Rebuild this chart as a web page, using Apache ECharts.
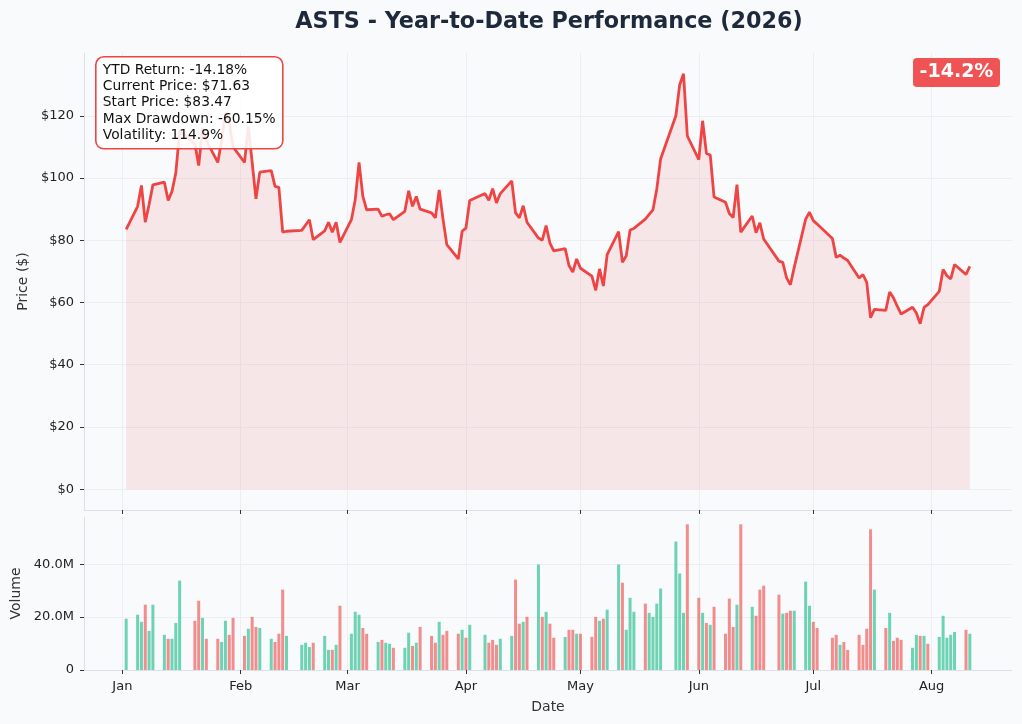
<!DOCTYPE html>
<html>
<head>
<meta charset="utf-8">
<script src="https://cdn.jsdelivr.net/npm/echarts@6/dist/echarts.min.js"></script>
<style>
  html, body { margin: 0; padding: 0; background: #f8fafc; }
  #container { width: 1022px; height: 724px; }
</style>
</head>
<body>
<div id="container"></div>
<script>
  // trading calendar: weekdays from Jan 2 to Aug 11, minus market holidays
  var startDay = '2026-01-02';
  var endDay = '2026-08-11';
  var holidays = ['2026-01-19', '2026-02-16', '2026-04-03', '2026-05-25', '2026-06-19', '2026-07-03'];

  // closing prices, one row per trading week
  var closes = [
    83.47,
    90.9, 97.6, 85.8, 91.5, 97.8,
    98.7, 92.8, 95.7, 101.6, 115.0,
    111.0, 104.0, 116.0, 112.0,
    105.0, 112.0, 121.0, 118.0, 110.0,
    105.0, 116.5, 105.0, 93.3, 101.9,
    102.4, 97.3, 97.0, 82.6, 82.9,
    83.2, 84.9, 86.6, 80.2,
    83.0, 85.8, 82.6, 85.8, 79.3,
    86.6, 93.0, 105.0, 94.1, 89.8,
    90.0, 87.7, 88.2, 88.5, 86.6,
    89.3, 95.9, 90.9, 94.1, 90.0,
    88.8, 87.2, 96.2, 86.8, 78.6,
    74.0, 82.9, 83.9, 92.8,
    95.0, 92.8, 96.6, 92.0, 95.0,
    99.1, 88.8, 87.2, 91.1, 85.8,
    80.7, 80.0, 84.7, 79.1, 76.6,
    77.3, 71.9, 69.8, 74.0, 71.0,
    68.5, 63.9, 70.8, 65.3, 75.4,
    82.8, 72.9, 75.0, 83.3, 83.8,
    86.8, 88.3, 89.8, 96.5, 106.1,
    120.0, 130.0, 133.5, 113.5,
    105.9, 118.4, 107.9, 107.4, 93.9,
    92.2, 88.6, 87.3, 97.9, 82.6,
    87.8, 82.4, 85.6, 80.4,
    73.3, 72.9, 67.9, 65.7, 71.3,
    86.8, 89.0, 86.3, 85.2,
    80.6, 74.5, 75.2, 74.3, 73.5,
    67.9, 69.0, 66.5, 55.1, 57.8,
    57.5, 63.4, 61.5, 58.8, 56.3,
    58.5, 56.6, 53.2, 58.4, 59.3,
    63.6, 70.6, 68.6, 67.6, 72.2,
    69.0, 71.63
  ];

  // daily volume in millions
  var volumes = [
    19.4,
    20.9, 18.2, 24.7, 14.8, 24.7,
    13.3, 11.8, 11.8, 17.8, 33.8,
    18.6, 26.2, 19.7, 11.8,
    11.8, 10.6, 18.6, 13.3, 19.7,
    12.9, 15.6, 20.1, 16.3, 15.9,
    11.8, 10.6, 13.7, 30.4, 12.9,
    9.5, 10.3, 8.7, 10.3,
    12.9, 7.6, 7.6, 9.5, 24.3,
    13.7, 22.0, 20.9, 15.9, 13.7,
    10.6, 11.4, 10.3, 9.9, 8.4,
    8.4, 14.1, 9.1, 10.3, 16.3,
    12.9, 10.3, 18.2, 13.3, 14.8,
    13.7, 15.2, 12.2, 17.1,
    13.3, 10.3, 11.4, 9.5, 11.8,
    12.9, 34.2, 17.5, 18.2, 20.1,
    39.9, 20.1, 22.0, 17.5, 12.2,
    12.5, 15.2, 15.2, 13.7, 13.7,
    12.5, 20.1, 18.6, 19.4, 22.8,
    39.9, 33.0, 15.2, 27.3, 22.0,
    25.1, 21.6, 20.1, 25.1, 30.8,
    48.6, 36.5, 21.6, 55.1,
    27.3, 21.6, 17.8, 17.1, 23.9,
    13.7, 27.0, 16.3, 24.7, 55.1,
    23.9, 20.5, 30.4, 31.9,
    28.5, 21.3, 21.6, 22.4, 22.4,
    33.4, 24.3, 18.2, 15.9,
    12.2, 13.3, 9.5, 10.6, 7.6,
    13.3, 9.5, 15.6, 53.2, 30.4,
    15.9, 21.6, 11.0, 12.2, 11.4,
    8.4, 13.3, 12.9, 12.9, 9.9,
    12.5, 20.5, 12.2, 13.3, 14.4,
    15.2, 13.7
  ];

  // u = up day (green bar), d = down day (red bar), one string per week
  var dayDirection = [
    'u', 'uuduu', 'uduuu', 'ddud', 'duudd', 'duddu', 'udddu', 'uuud',
    'uudud', 'uuudd', 'uduud', 'uudud', 'ddudd', 'dudu', 'udddu', 'uddud',
    'ududd', 'uddud', 'ddudu', 'uduuu', 'duuuu', 'uuud', 'dudud', 'dddud',
    'uddd', 'duddu', 'uudd', 'ddudd', 'ddddu', 'duddd', 'uudud', 'uuuuu', 'du'
  ].join('').split('');

  var priceTicks = [0, 20, 40, 60, 80, 100, 120];
  var volumeTicks = [0, 20, 40];
  var monthLabels = ['Jan', 'Feb', 'Mar', 'Apr', 'May', 'Jun', 'Jul', 'Aug'];

  var statsLines = [
    'YTD Return: -14.18%',
    'Current Price: $71.63',
    'Start Price: $83.47',
    'Max Drawdown: -60.15%',
    'Volatility: 114.9%'
  ];
  var badgeText = '-14.2%';

  var DAY = 86400000;
  function parseDay(s) {
    var p = s.split('-');
    return Date.UTC(+p[0], +p[1] - 1, +p[2]);
  }
  var dates = [];
  for (var t = parseDay(startDay); t <= parseDay(endDay); t += DAY) {
    var wd = new Date(t).getUTCDay();
    var iso = new Date(t).toISOString().slice(0, 10);
    if (wd !== 0 && wd !== 6 && holidays.indexOf(iso) < 0) dates.push(t);
  }
  var monthStarts = monthLabels.map(function (m, i) { return Date.UTC(2026, i, 1); });

  var pad = (dates[dates.length - 1] - dates[0]) * 0.05;
  var xMin = dates[0] - pad;
  var xMax = dates[dates.length - 1] + pad;
  var pMax = Math.max.apply(null, closes);
  var pMin = -pMax * 0.05;
  var pTop = pMax * 1.05;
  var vTop = Math.max.apply(null, volumes) * 1.05;

  var priceData = dates.map(function (d, i) { return [d, closes[i]]; });
  var volumeData = dates.map(function (d, i) {
    return {
      value: [d, volumes[i]],
      itemStyle: { color: dayDirection[i] === 'u' ? 'rgba(16,185,129,0.6)' : 'rgba(239,68,68,0.6)' }
    };
  });

  var FONT = 'DejaVu Sans';
  var gridLine = { show: true, lineStyle: { color: '#eceef2', width: 1 } };
  var spine = { show: true, onZero: false, lineStyle: { color: '#dde1e6', width: 1 } };

  var dom = document.getElementById('container');
  var myChart = echarts.init(dom, null, { renderer: 'canvas' });

  var option = {
    backgroundColor: '#f8fafc',
    animation: false,
    textStyle: { fontFamily: FONT },
    title: {
      text: 'ASTS - Year-to-Date Performance (2026)',
      left: 544,
      top: 6,
      textAlign: 'center',
      textStyle: { fontFamily: FONT, fontSize: 22.3, fontWeight: 'bold', color: '#1e293b' }
    },
    grid: [
      { left: 84, right: 10, top: 53, height: 457 },
      { left: 84, right: 10, top: 517, height: 153 }
    ],
    xAxis: [
      {
        type: 'value', gridIndex: 0, min: xMin, max: xMax,
        axisLine: spine,
        axisTick: { show: true, customValues: monthStarts, length: 4, lineStyle: { color: '#333' } },
        axisLabel: { show: false, customValues: monthStarts },
        splitLine: gridLine
      },
      {
        type: 'value', gridIndex: 1, min: xMin, max: xMax,
        name: 'Date', nameLocation: 'middle', nameGap: 30,
        nameTextStyle: { fontFamily: FONT, fontSize: 14, color: '#333' },
        axisLine: spine,
        axisTick: { show: true, customValues: monthStarts, length: 4, lineStyle: { color: '#333' } },
        axisLabel: {
          customValues: monthStarts, margin: 10,
          fontFamily: FONT, fontSize: 13, color: '#222',
          formatter: function (v) { return monthLabels[new Date(v).getUTCMonth()]; }
        },
        splitLine: gridLine
      }
    ],
    yAxis: [
      {
        type: 'value', gridIndex: 0, min: pMin, max: pTop,
        name: 'Price ($)', nameLocation: 'middle', nameGap: 52,
        nameTextStyle: { fontFamily: FONT, fontSize: 14, color: '#333' },
        axisLine: spine,
        axisTick: { show: true, customValues: priceTicks, length: 4, lineStyle: { color: '#333' } },
        axisLabel: {
          customValues: priceTicks, margin: 10,
          fontFamily: FONT, fontSize: 13, color: '#222',
          formatter: function (v) { return '$' + v; }
        },
        splitLine: gridLine
      },
      {
        type: 'value', gridIndex: 1, min: 0, max: vTop,
        name: 'Volume', nameLocation: 'middle', nameGap: 60,
        nameTextStyle: { fontFamily: FONT, fontSize: 14, color: '#333' },
        axisLine: spine,
        axisTick: { show: true, customValues: volumeTicks, length: 4, lineStyle: { color: '#333' } },
        axisLabel: {
          customValues: volumeTicks, margin: 10,
          fontFamily: FONT, fontSize: 13, color: '#222',
          formatter: function (v) { return v === 0 ? '0' : v.toFixed(1) + 'M'; }
        },
        splitLine: gridLine
      }
    ],
    series: [
      {
        type: 'line',
        xAxisIndex: 0, yAxisIndex: 0,
        data: priceData,
        showSymbol: false,
        lineStyle: { color: '#ef4444', width: 2.8 },
        itemStyle: { color: '#ef4444' },
        areaStyle: { color: 'rgba(239,68,68,0.15)', origin: 0 },
        z: 3
      },
      {
        type: 'bar',
        xAxisIndex: 1, yAxisIndex: 1,
        data: volumeData,
        barWidth: 3
      }
    ],
    graphic: [
      {
        type: 'group', left: 95, top: 56, zlevel: 1,
        children: [
          {
            type: 'rect', z: 100,
            shape: { x: 0, y: 0, width: 187, height: 92, r: 8 },
            style: { fill: 'rgba(255,255,255,0.88)', stroke: '#ef4444', lineWidth: 1.6 }
          },
          {
            type: 'text', x: 7, y: 5, z: 101,
            style: {
              text: statsLines.join('\n'),
              font: '13.8px "DejaVu Sans"',
              lineHeight: 16.4,
              fill: '#111'
            }
          }
        ]
      },
      {
        type: 'group', left: 913, top: 58, zlevel: 1,
        children: [
          {
            type: 'rect', z: 100,
            shape: { x: 0, y: 0, width: 87, height: 29, r: 4 },
            style: { fill: 'rgba(239,68,68,0.92)' }
          },
          {
            type: 'text', x: 43.5, y: 14.5, z: 101,
            style: {
              text: badgeText,
              font: 'bold 19px "DejaVu Sans"',
              fill: '#fff',
              align: 'center',
              verticalAlign: 'middle'
            }
          }
        ]
      }
    ]
  };

  if (option && typeof option === 'object') {
    myChart.setOption(option);
  }

  window.addEventListener('resize', myChart.resize);
</script>
</body>
</html>
